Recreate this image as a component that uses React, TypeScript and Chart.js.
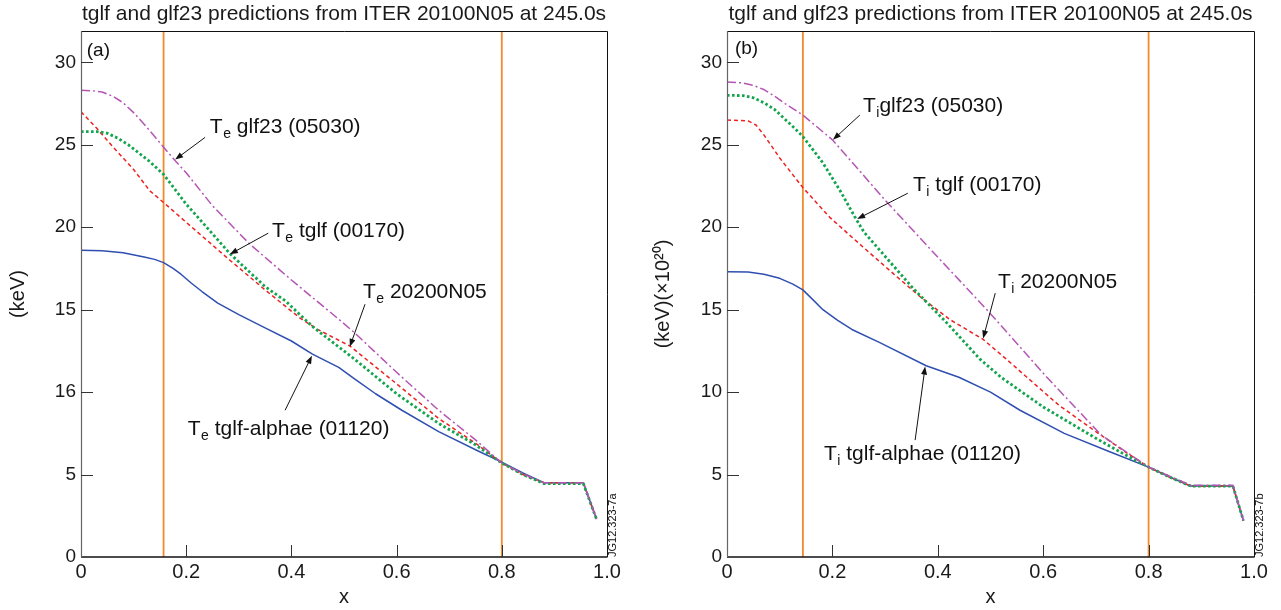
import React, { useEffect, useRef } from "react";
import { Chart, registerables } from "chart.js";

Chart.register(...registerables);

const FONT = '"Liberation Sans", Arial, Helvetica, sans-serif';

// ---------- text ----------
const chartTitle = "tglf and glf23 predictions from ITER 20100N05 at 245.0s";
const xTickLabels = ["0", "0.2", "0.4", "0.6", "0.8", "1.0"];
const yTickLabelsA = ["0", "5", "16", "15", "20", "25", "30"];
const yTickLabelsB = ["0", "5", "10", "15", "20", "25", "30"];
const xTitle = "x";
const yTitleA = "(keV)";
const yTitleB = "(keV)(×10²⁰)";

// ---------- panel (a): electron temperature ----------
const glf23A_x = [0, 0.02, 0.04, 0.06, 0.08, 0.1, 0.12, 0.14, 0.157, 0.18, 0.2, 0.25, 0.32, 0.4, 0.487, 0.52, 0.6, 0.68, 0.75, 0.8, 0.84, 0.88, 0.955, 0.98];
const glf23A_y = [28.3, 28.28, 28.2, 27.95, 27.55, 26.95, 26.25, 25.5, 24.85, 24.0, 23.3, 21.3, 19.0, 16.8, 14.5, 13.6, 11.2, 8.9, 7.1, 5.7, 5.05, 4.5, 4.5, 2.3];

const tglfA_x = [0, 0.03, 0.05, 0.07, 0.09, 0.11, 0.13, 0.157, 0.2, 0.25, 0.283, 0.35, 0.39, 0.416, 0.443, 0.52, 0.6, 0.68, 0.75, 0.8, 0.84, 0.88, 0.955, 0.98];
const tglfA_y = [25.8, 25.8, 25.7, 25.4, 25.0, 24.5, 24.0, 23.2, 21.4, 19.6, 18.4, 16.4, 15.5, 14.7, 13.9, 12.0, 9.9, 8.1, 6.8, 5.7, 5.0, 4.45, 4.45, 2.3];

const expA_x = [0, 0.03, 0.06, 0.1, 0.131, 0.157, 0.2, 0.283, 0.35, 0.416, 0.45, 0.511, 0.6, 0.68, 0.75, 0.8, 0.84, 0.88, 0.955, 0.98];
const expA_y = [27.0, 26.0, 24.9, 23.5, 22.2, 21.5, 20.3, 18.0, 16.2, 14.5, 13.8, 12.8, 10.5, 8.4, 6.9, 5.7, 5.0, 4.5, 4.5, 2.3];

const alphaeA_x = [0, 0.04, 0.08, 0.12, 0.14, 0.157, 0.175, 0.19, 0.21, 0.23, 0.26, 0.3, 0.35, 0.4, 0.44, 0.49, 0.52, 0.56, 0.61, 0.68, 0.757, 0.8, 0.84, 0.88, 0.955, 0.98];
const alphaeA_y = [18.6, 18.58, 18.45, 18.2, 18.05, 17.85, 17.5, 17.15, 16.6, 16.1, 15.4, 14.7, 13.9, 13.1, 12.3, 11.5, 10.8, 9.9, 8.9, 7.6, 6.4, 5.75, 5.1, 4.5, 4.5, 2.3];

const vlinesA = [0.157, 0.8];

// ---------- panel (b): ion temperature ----------
const glf23B_x = [0, 0.03, 0.05, 0.07, 0.09, 0.11, 0.144, 0.2, 0.304, 0.417, 0.493, 0.607, 0.71, 0.8, 0.84, 0.88, 0.96, 0.98];
const glf23B_y = [28.8, 28.75, 28.6, 28.35, 27.95, 27.5, 26.8, 25.3, 21.5, 17.6, 15.0, 10.9, 7.4, 5.45, 4.9, 4.35, 4.35, 2.2];

const tglfB_x = [0, 0.03, 0.05, 0.07, 0.09, 0.11, 0.13, 0.144, 0.182, 0.215, 0.243, 0.26, 0.29, 0.353, 0.417, 0.48, 0.52, 0.6, 0.7, 0.75, 0.8, 0.84, 0.88, 0.96, 0.98];
const tglfB_y = [28.0, 27.98, 27.85, 27.55, 27.15, 26.55, 25.95, 25.5, 23.9, 22.2, 20.6, 19.7, 18.6, 16.3, 14.2, 12.0, 10.9, 9.1, 7.2, 6.3, 5.45, 4.85, 4.3, 4.3, 2.2];

const expB_x = [0, 0.04, 0.055, 0.07, 0.085, 0.1, 0.144, 0.195, 0.258, 0.315, 0.366, 0.423, 0.486, 0.53, 0.569, 0.63, 0.7, 0.75, 0.8, 0.84, 0.88, 0.96, 0.98];
const expB_y = [26.5, 26.45, 26.2, 25.6, 24.9, 24.2, 22.4, 20.6, 18.8, 17.2, 15.8, 14.4, 13.2, 12.0, 10.9, 9.2, 7.6, 6.5, 5.45, 4.85, 4.3, 4.3, 2.2];

const alphaeB_x = [0, 0.04, 0.07, 0.1, 0.125, 0.144, 0.16, 0.182, 0.21, 0.237, 0.29, 0.378, 0.44, 0.5, 0.556, 0.64, 0.725, 0.8, 0.84, 0.88, 0.96, 0.98];
const alphaeB_y = [17.3, 17.28, 17.15, 16.9, 16.55, 16.2, 15.7, 15.0, 14.35, 13.8, 13.0, 11.6, 10.9, 10.0, 8.9, 7.5, 6.4, 5.45, 4.85, 4.3, 4.3, 2.2];

const vlinesB = [0.144, 0.8];

// ---------- annotations (data coordinates) ----------
const annotationsA = [
  { main: "T", sub: "e", rest: " glf23 (05030)", tx: 0.245, ty: 25.7, ax: 0.236, ay: 25.45, hx: 0.179, hy: 24.1 },
  { main: "T", sub: "e", rest: " tglf (00170)", tx: 0.363, ty: 19.4, ax: 0.356, ay: 19.64, hx: 0.283, hy: 18.36 },
  { main: "T", sub: "e", rest: " 20200N05", tx: 0.536, ty: 15.7, ax: 0.54, ay: 15.33, hx: 0.511, hy: 12.75 },
  { main: "T", sub: "e", rest: " tglf-alphae (01120)", tx: 0.203, ty: 7.4, ax: 0.388, ay: 8.9, hx: 0.439, hy: 12.2 },
];
const annotationsB = [
  { main: "T", sub: "i", rest: "glf23 (05030)", tx: 0.258, ty: 27.0, ax: 0.252, ay: 26.8, hx: 0.201, hy: 25.3 },
  { main: "T", sub: "i", rest: " tglf (00170)", tx: 0.353, ty: 22.2, ax: 0.343, ay: 22.06, hx: 0.247, hy: 20.5 },
  { main: "T", sub: "i", rest: " 20200N05", tx: 0.514, ty: 16.3, ax: 0.509, ay: 16.0, hx: 0.486, hy: 13.25 },
  { main: "T", sub: "i", rest: " tglf-alphae (01120)", tx: 0.184, ty: 5.9, ax: 0.357, ay: 7.09, hx: 0.376, hy: 11.55 },
];

const Y_MAX = 31.9;

// ---------- styles ----------
const STYLE = {
  glf23: { color: "#b455b4", dash: [9, 3, 2, 3], width: 1.5 },
  tglf: { color: "#12a54e", dash: [2.6, 2.4], width: 2.8 },
  exp: { color: "#ee2020", dash: [4, 3], width: 1.5 },
  alphae: { color: "#2f4fb0", dash: [] as number[], width: 1.5 },
  vline: { color: "#f28a2e", width: 1.8 },
};

function pts(xs: number[], ys: number[]) {
  return xs.map((x, i) => ({ x, y: ys[i] }));
}

type Panel = {
  series: { xs: number[]; ys: number[]; style: { color: string; dash: number[]; width: number } }[];
  vlines: number[];
  yTickLabels: string[];
  yTitle: string;
  yTitlePad: number;
  annotations: typeof annotationsA;
  tag: string;
  tagX: number;
  tagY: number;
  stamp: string;
  yAxisWidth: number;
  rightPad: number;
  width: number;
};

const panelA: Panel = {
  series: [
    { xs: glf23A_x, ys: glf23A_y, style: STYLE.glf23 },
    { xs: tglfA_x, ys: tglfA_y, style: STYLE.tglf },
    { xs: expA_x, ys: expA_y, style: STYLE.exp },
    { xs: alphaeA_x, ys: alphaeA_y, style: STYLE.alphae },
  ],
  vlines: vlinesA,
  yTickLabels: yTickLabelsA,
  yTitle: yTitleA,
  yTitlePad: 6,
  annotations: annotationsA,
  tag: "(a)",
  tagX: 0.011,
  tagY: 31.3,
  stamp: "JG12.323-7a",
  yAxisWidth: 81,
  rightPad: 33,
  width: 640,
};

const panelB: Panel = {
  series: [
    { xs: glf23B_x, ys: glf23B_y, style: STYLE.glf23 },
    { xs: tglfB_x, ys: tglfB_y, style: STYLE.tglf },
    { xs: expB_x, ys: expB_y, style: STYLE.exp },
    { xs: alphaeB_x, ys: alphaeB_y, style: STYLE.alphae },
  ],
  vlines: vlinesB,
  yTickLabels: yTickLabelsB,
  yTitle: yTitleB,
  yTitlePad: 11,
  annotations: annotationsB,
  tag: "(b)",
  tagX: 0.015,
  tagY: 31.4,
  stamp: "JG12.323-7b",
  yAxisWidth: 87,
  rightPad: 27,
  width: 641,
};

function makeDecorPlugin(p: Panel) {
  return {
    id: "decor",
    afterDatasetsDraw(chart: any) {
      const { ctx, chartArea, scales } = chart;
      const xs = scales.x;
      const ys = scales.y;
      const { left, right, top, bottom } = chartArea;
      ctx.save();
      // frame
      ctx.lineWidth = 1;
      ctx.strokeStyle = "#111";
      ctx.beginPath();
      ctx.moveTo(left, top + 0.5);
      ctx.lineTo(right + 0.5, top + 0.5);
      ctx.lineTo(right + 0.5, bottom);
      ctx.stroke();
      ctx.lineWidth = 1.5;
      ctx.beginPath();
      ctx.moveTo(left, bottom);
      ctx.lineTo(right + 0.5, bottom);
      ctx.stroke();
      ctx.strokeStyle = "#666";
      ctx.lineWidth = 1.2;
      ctx.beginPath();
      ctx.moveTo(left + 0.5, top);
      ctx.lineTo(left + 0.5, bottom);
      ctx.stroke();
      // inward ticks
      ctx.strokeStyle = "#333";
      ctx.lineWidth = 1;
      for (const t of ys.ticks) {
        if (t.value <= 0) continue;
        const py = Math.round(ys.getPixelForValue(t.value)) + 0.5;
        ctx.beginPath();
        ctx.moveTo(left, py);
        ctx.lineTo(left + 12, py);
        ctx.stroke();
      }
      for (const t of xs.ticks) {
        if (t.value <= 0 || t.value >= 1) continue;
        const px = Math.round(xs.getPixelForValue(t.value)) + 0.5;
        ctx.beginPath();
        ctx.moveTo(px, bottom);
        ctx.lineTo(px, bottom - 12);
        ctx.stroke();
      }
      // panel tag
      ctx.fillStyle = "#111";
      ctx.font = `19px ${FONT}`;
      ctx.textAlign = "left";
      ctx.textBaseline = "top";
      ctx.fillText(p.tag, xs.getPixelForValue(p.tagX), ys.getPixelForValue(p.tagY));
      // annotations
      for (const a of p.annotations) {
        const tx = xs.getPixelForValue(a.tx);
        const ty = ys.getPixelForValue(a.ty);
        ctx.textBaseline = "alphabetic";
        ctx.font = `21px ${FONT}`;
        ctx.fillText(a.main, tx, ty);
        let cx = tx + ctx.measureText(a.main).width;
        ctx.font = `14px ${FONT}`;
        ctx.fillText(a.sub, cx + 0.5, ty + 5);
        cx += ctx.measureText(a.sub).width + 0.5;
        ctx.font = `21px ${FONT}`;
        ctx.fillText(a.rest, cx, ty);
        // arrow
        const x0 = xs.getPixelForValue(a.ax);
        const y0 = ys.getPixelForValue(a.ay);
        const x1 = xs.getPixelForValue(a.hx);
        const y1 = ys.getPixelForValue(a.hy);
        const ang = Math.atan2(y1 - y0, x1 - x0);
        const hl = 8;
        const hw = 3;
        ctx.strokeStyle = "#111";
        ctx.lineWidth = 1;
        ctx.beginPath();
        ctx.moveTo(x0, y0);
        ctx.lineTo(x1 - Math.cos(ang) * hl * 0.8, y1 - Math.sin(ang) * hl * 0.8);
        ctx.stroke();
        ctx.beginPath();
        ctx.moveTo(x1, y1);
        ctx.lineTo(x1 - Math.cos(ang) * hl - Math.sin(ang) * hw, y1 - Math.sin(ang) * hl + Math.cos(ang) * hw);
        ctx.lineTo(x1 - Math.cos(ang) * hl + Math.sin(ang) * hw, y1 - Math.sin(ang) * hl - Math.cos(ang) * hw);
        ctx.closePath();
        ctx.fill();
      }
      // stamp
      ctx.translate(right + 6, bottom);
      ctx.rotate(-Math.PI / 2);
      ctx.font = `11px ${FONT}`;
      ctx.textAlign = "left";
      ctx.textBaseline = "middle";
      ctx.fillText(p.stamp, 0, 0);
      ctx.restore();
    },
  };
}

function buildConfig(p: Panel): any {
  const datasets: any[] = p.series.map((s) => ({
    data: pts(s.xs, s.ys),
    borderColor: s.style.color,
    borderWidth: s.style.width,
    borderDash: s.style.dash,
    borderCapStyle: "butt",
    borderJoinStyle: "round",
    pointRadius: 0,
    tension: 0,
    fill: false,
  }));
  for (const v of p.vlines) {
    datasets.push({
      data: [
        { x: v, y: 0 },
        { x: v, y: Y_MAX },
      ],
      borderColor: STYLE.vline.color,
      borderWidth: STYLE.vline.width,
      pointRadius: 0,
      fill: false,
    });
  }
  return {
    type: "line",
    data: { datasets },
    options: {
      responsive: false,
      animation: false,
      devicePixelRatio: 1,
      layout: { padding: { left: 0, right: p.rightPad, top: 0, bottom: 0 } },
      plugins: {
        legend: { display: false },
        tooltip: { enabled: false },
        title: {
          display: true,
          text: chartTitle,
          fullSize: false,
          align: "center",
          color: "#1a1a1a",
          font: { family: FONT, size: 21, weight: "normal", lineHeight: 1.2 },
          padding: { top: 2, bottom: 3.8 },
        },
      },
      scales: {
        x: {
          type: "linear",
          min: 0,
          max: 1,
          afterFit: (s: any) => {
            s.height = 53;
          },
          grid: { display: false, drawTicks: false },
          border: { display: false },
          ticks: {
            stepSize: 0.2,
            includeBounds: false,
            padding: 3,
            color: "#1a1a1a",
            font: { family: FONT, size: 20 },
            maxRotation: 0,
            autoSkip: false,
            callback: (_v: any, i: number) => xTickLabels[i],
          },
          title: {
            display: true,
            text: xTitle,
            color: "#1a1a1a",
            font: { family: FONT, size: 20, lineHeight: 1.2 },
            padding: { top: 0, bottom: 1 },
          },
        },
        y: {
          type: "linear",
          min: 0,
          max: Y_MAX,
          afterFit: (s: any) => {
            s.width = p.yAxisWidth;
          },
          grid: { display: false, drawTicks: false },
          border: { display: false },
          ticks: {
            stepSize: 5,
            includeBounds: false,
            padding: 5,
            color: "#1a1a1a",
            font: { family: FONT, size: 19 },
            autoSkip: false,
            callback: (_v: any, i: number) => p.yTickLabels[i],
          },
          title: {
            display: true,
            text: p.yTitle,
            color: "#1a1a1a",
            font: { family: FONT, size: 20, lineHeight: 1.2 },
            padding: { top: p.yTitlePad, bottom: 0 },
          },
        },
      },
    },
    plugins: [makeDecorPlugin(p)],
  };
}

function PanelChart({ panel, left }: { panel: Panel; left: number }) {
  const ref = useRef<HTMLCanvasElement | null>(null);
  useEffect(() => {
    if (!ref.current) return;
    const chart = new Chart(ref.current, buildConfig(panel));
    return () => chart.destroy();
  }, [panel]);
  return (
    <canvas
      ref={ref}
      width={panel.width}
      height={610}
      style={{ position: "absolute", left, top: 0, width: panel.width, height: 610, display: "block" }}
    />
  );
}

export default function App() {
  return (
    <div style={{ position: "fixed", left: 0, top: 0, width: 1281, height: 610, background: "#fff", overflow: "hidden" }}>
      <PanelChart panel={panelA} left={0} />
      <PanelChart panel={panelB} left={640} />
    </div>
  );
}
